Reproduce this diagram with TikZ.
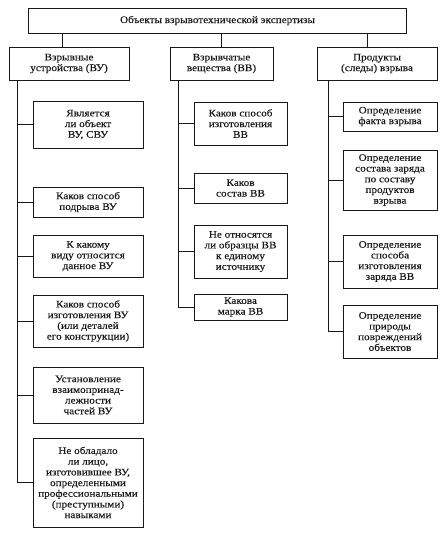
\documentclass[tikz,border=0pt]{standalone}
\usepackage{fontspec}
\setmainfont{Liberation Serif}[FakeStretch=1.12,FakeBold=0.15]
\begin{document}
\begin{tikzpicture}[x=1pt,y=-1pt,
  box/.style={draw=black!90, line width=0.8pt, align=center, inner sep=1pt,
    text=black!90, font=\fontsize{10}{10.7}\selectfont},
  conn/.style={draw=black!90, line width=0.8pt}]
\useasboundingbox[fill=white] (0,0) rectangle (445,533);
% top
\node[box, minimum width=378pt, minimum height=25pt] (top) at (217.5,20.5) {Объекты взрывотехнической экспертизы};
% level 2
\node[box, minimum width=120pt, minimum height=33pt] (ua) at (69,63.5) {Взрывные\\устройства (ВУ)};
\node[box, minimum width=103pt, minimum height=33pt] (ub) at (221.5,63.5) {Взрывчатые\\вещества (ВВ)};
\node[box, minimum width=120pt, minimum height=33pt] (uc) at (377,63.5) {Продукты\\(следы) взрыва};
\draw[conn] (top.south -| 62,0) -- (ua.north -| 62,0);
\draw[conn] (top.south -| 221,0) -- (ub.north -| 221,0);
\draw[conn] (top.south -| 367,0) -- (uc.north -| 367,0);
% left column
\node[box, minimum width=110pt, minimum height=47pt] (a1) at (88,124.5) {Является\\ли объект\\ВУ, СВУ};
\node[box, minimum width=110pt, minimum height=30pt] (a2) at (88,202) {Каков способ\\подрыва ВУ};
\node[box, minimum width=110pt, minimum height=42pt] (a3) at (88,256) {К какому\\виду относится\\данное ВУ};
\node[box, minimum width=110pt, minimum height=52pt] (a4) at (88,321) {Каков способ\\изготовления ВУ\\(или деталей\\его конструкции)};
\node[box, minimum width=110pt, minimum height=56pt] (a5) at (88,395) {Установление\\взаимопринад-\\лежности\\частей ВУ};
\node[box, minimum width=110pt, minimum height=89pt] (a6) at (88,482.5) {Не обладало\\ли лицо,\\изготовившее ВУ,\\определенными\\профессиональными\\(преступными)\\навыками};
\coordinate (sa) at (17,80);
\draw[conn] (sa) |- (a6.west);
\foreach \n in {a1,a2,a3,a4,a5} \draw[conn] (\n.west) -- (\n.west -| sa);
% middle column
\node[box, minimum width=93pt, minimum height=43pt] (b1) at (240.5,123.5) {Каков способ\\изготовления\\ВВ};
\node[box, minimum width=93pt, minimum height=30pt] (b2) at (240.5,188) {Каков\\состав ВВ};
\node[box, minimum width=93pt, minimum height=53pt] (b3) at (240.5,251.5) {Не относятся\\ли образцы ВВ\\к единому\\источнику};
\node[box, minimum width=93pt, minimum height=26pt] (b4) at (240.5,307) {Какова\\марка ВВ};
\coordinate (sb) at (178,80);
\draw[conn] (sb) |- (b4.west);
\foreach \n in {b1,b2,b3} \draw[conn] (\n.west) -- (\n.west -| sb);
% right column
\node[box, minimum width=94pt, minimum height=29pt] (c1) at (390,116.5) {Определение\\факта взрыва};
\node[box, minimum width=94pt, minimum height=60pt] (c2) at (390,180) {Определение\\состава заряда\\по составу\\продуктов\\взрыва};
\node[box, minimum width=94pt, minimum height=53pt] (c3) at (390,261.5) {Определение\\способа\\изготовления\\заряда ВВ};
\node[box, minimum width=94pt, minimum height=53pt] (c4) at (390,331.5) {Определение\\природы\\повреждений\\объектов};
\coordinate (sc) at (328,80);
\draw[conn] (sc) |- (c4.west);
\foreach \n in {c1,c2,c3} \draw[conn] (\n.west) -- (\n.west -| sc);
\end{tikzpicture}
\end{document}
